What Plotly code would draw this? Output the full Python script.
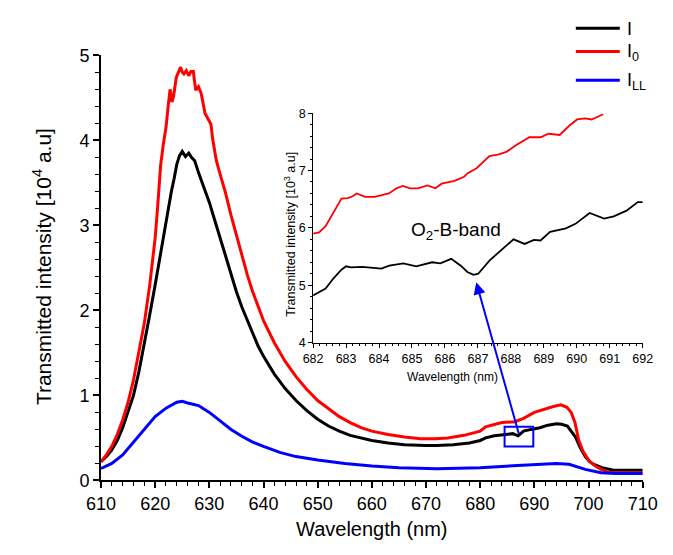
import plotly.graph_objects as go

# ---------------- main spectra (values in 10^4 a.u.) ----------------
wl_I = [610, 611, 612, 613, 614, 615, 616, 617, 618, 619, 620, 621, 622, 623, 623.5, 624, 624.5, 625,
        625.6, 626.2, 626.7, 627.3, 628, 629, 630, 631, 632, 633, 634, 635, 636, 637, 638, 639, 640,
        642, 644, 646, 648, 650, 652, 654, 656, 658, 660, 663, 666, 670, 672, 675, 678, 680, 681,
        682.6, 684.7, 686, 687, 688, 689.4, 691, 692.5, 694.1, 695, 696.1, 697.6, 698.5, 699.4,
        700.2, 701.1, 702.5, 704.6, 707, 710]
val_I = [0.22, 0.28, 0.36, 0.47, 0.62, 0.8, 1.0, 1.28, 1.6, 1.95, 2.3, 2.68, 3.05, 3.4, 3.55, 3.72, 3.82, 3.87,
         3.81, 3.85, 3.8, 3.76, 3.62, 3.45, 3.27, 3.06, 2.85, 2.62, 2.42, 2.22, 2.04, 1.88, 1.72, 1.58, 1.46,
         1.25, 1.08, 0.94, 0.82, 0.72, 0.64, 0.58, 0.53, 0.5, 0.47, 0.44, 0.42, 0.41, 0.41, 0.42, 0.44, 0.47, 0.5,
         0.525, 0.54, 0.55, 0.525, 0.58, 0.6, 0.62, 0.65, 0.665, 0.66, 0.64, 0.51, 0.38, 0.28,
         0.22, 0.185, 0.15, 0.12, 0.12, 0.12]

wl_I0 = [610, 611, 612, 613, 614, 615, 616, 617, 618, 619, 620, 620.5, 621, 621.5, 622, 622.4, 622.75, 623.1,
         623.4, 623.9, 624.3, 624.7, 625, 625.3, 625.75, 626.2, 626.6, 627.05, 627.3, 627.5, 628, 628.5,
         629.2, 629.9, 630.3, 630.6, 631.3, 632, 633, 634, 635, 636, 637, 638, 639, 640, 642, 644, 646,
         648, 650, 652, 654, 656, 658, 660, 663, 666, 669, 671.7, 674, 677, 680, 681, 682.6, 684, 686.4,
         688, 690, 692.3, 693.5, 694.9, 696, 696.8, 697.5, 698.2, 699, 700, 701, 702.3, 703.5, 704.6, 707, 710]
val_I0 = [0.22, 0.3, 0.4, 0.54, 0.71, 0.92, 1.18, 1.5, 1.85, 2.3, 2.85, 3.25, 3.7, 3.95, 4.15, 4.4, 4.6, 4.45,
          4.52, 4.74, 4.8, 4.86, 4.8, 4.78, 4.82, 4.76, 4.81, 4.81, 4.68, 4.59, 4.63, 4.55,
          4.32, 4.23, 4.19, 4.02, 3.76, 3.6, 3.38, 3.12, 2.88, 2.64, 2.42, 2.22, 2.04, 1.88, 1.62, 1.4, 1.22,
          1.07, 0.94, 0.84, 0.75, 0.68, 0.62, 0.58, 0.54, 0.51, 0.49, 0.49, 0.5, 0.53, 0.58, 0.63, 0.66, 0.68, 0.69,
          0.73, 0.8, 0.85, 0.87, 0.89, 0.86, 0.8, 0.68, 0.47, 0.34, 0.24, 0.18, 0.13, 0.1, 0.09, 0.09, 0.09]

wl_ILL = [610, 612, 614, 616, 618, 620, 622, 624, 625, 626, 628, 630, 632, 634, 636, 638, 640, 643, 646,
          650, 655, 660, 665, 670, 672, 680, 690, 694, 696.4, 697.5, 699.4, 702.3, 705, 710]
val_ILL = [0.14, 0.2, 0.3, 0.45, 0.6, 0.75, 0.85, 0.92, 0.93, 0.91, 0.88, 0.8, 0.7, 0.6, 0.52, 0.45, 0.4, 0.33, 0.28,
           0.24, 0.2, 0.17, 0.15, 0.14, 0.136, 0.15, 0.18, 0.2, 0.19, 0.17, 0.13, 0.09, 0.08, 0.08]

# ---------------- inset (values in 10^3 a.u.) ----------------
ins_wl_I0 = [682.0, 682.18, 682.38, 682.62, 682.86, 683.05, 683.2, 683.32, 683.58, 683.87, 684.0, 684.3,
             684.53, 684.72, 684.94, 685.18, 685.47, 685.71, 685.9, 686.29, 686.58, 686.68, 686.96, 687.35,
             687.64, 687.88, 688.13, 688.32, 688.56, 688.9, 689.14, 689.48, 689.77, 690.01, 690.25, 690.45, 690.8]
ins_val_I0 = [5.90, 5.92, 6.03, 6.27, 6.51, 6.52, 6.55, 6.60, 6.54, 6.54, 6.56, 6.60,
              6.69, 6.73, 6.69, 6.69, 6.74, 6.69, 6.77, 6.82, 6.89, 6.95, 7.04, 7.25,
              7.28, 7.33, 7.43, 7.49, 7.58, 7.58, 7.64, 7.62, 7.78, 7.89, 7.91, 7.89, 7.98]

ins_wl_I = [682.0, 682.18, 682.38, 682.62, 682.86, 683.0, 683.15, 683.49, 683.87, 684.07, 684.31, 684.74,
            685.13, 685.61, 685.86, 686.19, 686.48, 686.68, 686.87, 687.01, 687.35, 687.74, 688.08, 688.42,
            688.7, 688.9, 689.19, 689.67, 689.96, 690.39, 690.59, 690.83, 691.12, 691.51, 691.85, 692.0]
ins_val_I = [4.82, 4.88, 4.94, 5.12, 5.27, 5.33, 5.31, 5.32, 5.30, 5.29, 5.34, 5.38,
             5.33, 5.40, 5.38, 5.46, 5.34, 5.23, 5.18, 5.20, 5.43, 5.63, 5.80, 5.72,
             5.79, 5.78, 5.93, 5.99, 6.07, 6.26, 6.22, 6.16, 6.20, 6.30, 6.45, 6.45]

legend_labels = ["I", "I<sub>0</sub>", "I<sub>LL</sub>"]
colors = ["#000000", "#ff0000", "#0000ff"]

FONT = "Arial, Liberation Sans, sans-serif"
W, H = 673, 555

fig = go.Figure()
fig.add_trace(go.Scatter(x=wl_I, y=val_I, mode="lines", line=dict(color=colors[0], width=3),
                         showlegend=False, xaxis="x", yaxis="y"))
fig.add_trace(go.Scatter(x=wl_I0, y=val_I0, mode="lines", line=dict(color=colors[1], width=3),
                         showlegend=False, xaxis="x", yaxis="y"))
fig.add_trace(go.Scatter(x=wl_ILL, y=val_ILL, mode="lines", line=dict(color=colors[2], width=3),
                         showlegend=False, xaxis="x", yaxis="y"))
fig.add_trace(go.Scatter(x=ins_wl_I0, y=ins_val_I0, mode="lines", line=dict(color=colors[1], width=1.8),
                         showlegend=False, xaxis="x2", yaxis="y2"))
fig.add_trace(go.Scatter(x=ins_wl_I, y=ins_val_I, mode="lines", line=dict(color=colors[0], width=1.8),
                         showlegend=False, xaxis="x2", yaxis="y2"))

axis_common = dict(showgrid=False, zeroline=False, showline=True, linecolor="black", ticks="outside",
                   tickcolor="black", mirror=False)

fig.update_layout(
    width=W, height=H,
    margin=dict(l=0, r=0, t=0, b=0),
    paper_bgcolor="white", plot_bgcolor="white",
    font=dict(family=FONT, color="black"),
    xaxis=dict(**axis_common, domain=[90 / W, 657 / W], range=[610, 710], tickvals=list(range(610, 711, 10)),
               ticklen=6, linewidth=1.5, tickwidth=1.5, tickfont=dict(size=18),
               minor=dict(dtick=2, ticks="outside", ticklen=4, tickcolor="black", tickwidth=1)),
    yaxis=dict(**axis_common, domain=[1 - 488 / H, 1 - 47 / H], range=[0, 5], tickvals=[0, 1, 2, 3, 4, 5],
               ticklen=6, linewidth=1.5, tickwidth=1.5, tickfont=dict(size=18),
               minor=dict(dtick=0.2, ticks="outside", ticklen=4, tickcolor="black", tickwidth=1)),
    xaxis2=dict(**axis_common, domain=[312 / W, 657 / W], range=[682, 692], anchor="y2",
                tickvals=list(range(682, 693)), ticklen=4, linewidth=1, tickwidth=1, tickfont=dict(size=12.5),
                minor=dict(dtick=0.2, ticks="outside", ticklen=2.5, tickcolor="black", tickwidth=1)),
    yaxis2=dict(**axis_common, domain=[1 - 345 / H, 1 - 107 / H], range=[4, 8], anchor="x2",
                tickvals=[4, 5, 6, 7, 8], ticklen=4, linewidth=1, tickwidth=1, tickfont=dict(size=12.5),
                minor=dict(dtick=0.2, ticks="outside", ticklen=2.5, tickcolor="black", tickwidth=1)),
)

annotations = [
    dict(text="Wavelength (nm)", xref="paper", yref="paper", x=(90 + 657) / 2 / W, y=1 - 538 / H,
         showarrow=False, font=dict(size=20), xanchor="center", yanchor="middle"),
    dict(text="Transmitted intensity [10<sup>4</sup> a.u]", xref="paper", yref="paper", x=29 / W,
         y=1 - 266 / H, showarrow=False, textangle=-90, font=dict(size=21), xanchor="center", yanchor="middle"),
    dict(text="Wavelength (nm)", xref="paper", yref="paper", x=458 / W, y=1 - 381 / H,
         showarrow=False, font=dict(size=12), xanchor="center", yanchor="middle"),
    dict(text="Transmitted intensity [10<sup>3</sup> a.u]", xref="paper", yref="paper", x=287 / W,
         y=1 - 233 / H, showarrow=False, textangle=-90, font=dict(size=12.5), xanchor="center", yanchor="middle"),
    dict(text="O<sub>2</sub>-B-band", xref="x2", yref="y2", x=686.35, y=5.95,
         showarrow=False, font=dict(size=19), xanchor="center", yanchor="middle"),
    # arrow from the marked region to the inset dip
    dict(text="", xref="x2", yref="y2", x=686.95, y=5.05, ax=43, ay=153, axref="pixel", ayref="pixel",
         showarrow=True, arrowhead=2, arrowsize=1.2, arrowwidth=2, arrowcolor="#0000ff"),
]

legend_y = [19, 43, 73]
shapes = [dict(type="rect", xref="x", yref="y", x0=684.5, x1=689.8, y0=0.40, y1=0.63,
               line=dict(color="#0000ff", width=2))]
for lab, col, ly in zip(legend_labels, colors, legend_y):
    shapes.append(dict(type="line", xref="paper", yref="paper", x0=587 / W, x1=633 / W,
                       y0=1 - ly / H, y1=1 - ly / H, line=dict(color=col, width=3)))
    annotations.append(dict(text=lab, xref="paper", yref="paper", x=638 / W, y=1 - (ly + 1) / H,
                            showarrow=False, font=dict(size=18), xanchor="left", yanchor="middle"))

fig.update_layout(annotations=annotations, shapes=shapes)

fig.write_html("out.html", config={"displayModeBar": False},
               post_script="document.body.style.margin='0';")
